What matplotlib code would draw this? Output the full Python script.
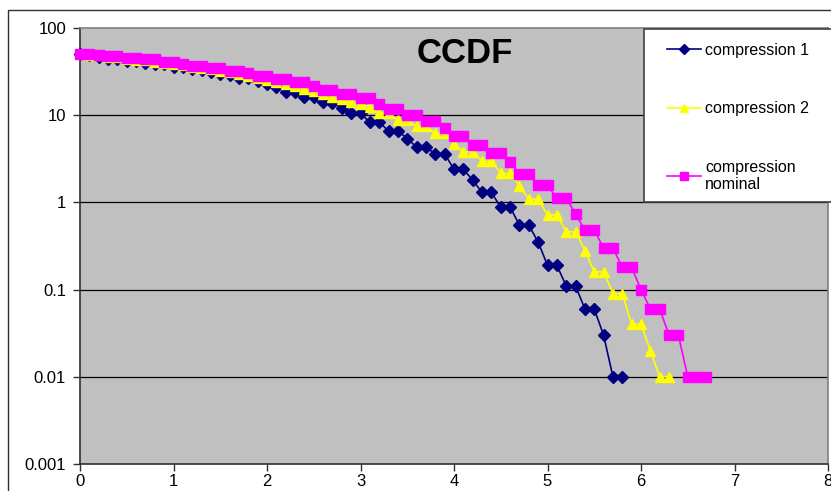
import matplotlib
matplotlib.use("Agg")
import matplotlib.pyplot as plt
from matplotlib.patches import Rectangle

plt.rcParams["font.family"] = ["Liberation Sans", "DejaVu Sans"]

# CCDF values (percent) sampled every 0.1 along x
comp1 = [50, 48.5, 47, 44.5, 44.5, 42, 41.5, 40, 39, 38.5,
         36, 35.5, 33.5, 33, 31.5, 30, 29, 26.5, 26.5, 24.5,
         23, 21, 18.6, 18.6, 16.3, 16.3, 14.3, 13.9, 12.2, 10.5,
         10.5, 8.3, 8.3, 6.6, 6.6, 5.4, 4.3, 4.3, 3.6, 3.6,
         2.4, 2.4, 1.8, 1.3, 1.3, 0.88, 0.88, 0.55, 0.55, 0.35,
         0.19, 0.19, 0.11, 0.11, 0.06, 0.06, 0.03, 0.01, 0.01]
comp2 = [50, 49.5, 48.5, 47, 46, 44.5, 43.5, 42.5, 41, 40,
         38.5, 37.5, 36, 35, 33.5, 32.5, 31, 29.5, 28.5, 27,
         25.5, 24, 23, 21.5, 19.8, 19, 17.5, 16, 15.5, 14,
         13.5, 12.3, 10.5, 10.5, 8.8, 8.8, 7.5, 7.5, 6.2, 6.2,
         4.7, 3.8, 3.8, 2.95, 2.95, 2.15, 2.15, 1.56, 1.09, 1.09,
         0.72, 0.72, 0.46, 0.46, 0.28, 0.16, 0.16, 0.09, 0.09, 0.04,
         0.04, 0.02, 0.01, 0.01]
comp_nominal = [50, 50, 49.5, 47.7, 47.7, 45.7, 45.7, 43.8, 43.8, 41.1,
                41.1, 38.7, 36.8, 36.8, 35.1, 35.1, 32.1, 32.1, 30.5, 28.5,
                28.5, 26.1, 26.1, 23.9, 23.9, 21.5, 19.7, 19.7, 17.6, 17.6,
                15.7, 15.7, 13.5, 11.8, 11.8, 10.1, 10.1, 8.5, 8.5, 7.1,
                5.7, 5.7, 4.6, 4.6, 3.7, 3.7, 2.9, 2.13, 2.13, 1.57,
                1.57, 1.11, 1.11, 0.74, 0.48, 0.48, 0.30, 0.30, 0.18, 0.18,
                0.10, 0.06, 0.06, 0.03, 0.03, 0.01, 0.01, 0.01]

series_labels = ["compression 1", "compression 2", "compression\nnominal"]
x_ticks = [0, 1, 2, 3, 4, 5, 6, 7, 8]
y_ticks = [0.001, 0.01, 0.1, 1, 10, 100]
y_tick_labels = ["0.001", "0.01", "0.1", "1", "10", "100"]


def xgrid(values):
    return [i / 10 for i in range(len(values))]


W, H = 831, 491
fig = plt.figure(figsize=(W / 100, H / 100), dpi=100)
fig.patch.set_facecolor("white")

# outer chart frame (left and top edges visible)
fig.add_artist(Rectangle((8 / W, -0.2), 1.2, 1.2 - 10 / H,
                         transform=fig.transFigure, fill=False,
                         edgecolor="#303030", linewidth=1.0, zorder=0.5))

ax = fig.add_axes([80 / W, 1 - 464 / H, 748 / W, 436 / H])
ax.set_facecolor("#C0C0C0")
ax.set_yscale("log")
ax.set_xlim(0, 8)
ax.set_ylim(0.001, 100)

for v in [0.01, 0.1, 1, 10]:
    ax.axhline(v, color="#000000", linewidth=0.9, zorder=1)

line1, = ax.plot(xgrid(comp1), comp1, color="#000080", marker="D",
                 markersize=5.8, linewidth=1.2, zorder=3, clip_on=False)
line2, = ax.plot(xgrid(comp2), comp2, color="#FFFF00", marker="^",
                 markersize=7.5, linewidth=1.2, zorder=4, clip_on=False)
line3, = ax.plot(xgrid(comp_nominal), comp_nominal, color="#FF00FF",
                 marker="s", markersize=7, linewidth=1.2, zorder=5,
                 clip_on=False)

ax.set_xticks(x_ticks)
ax.set_xticklabels([str(t) for t in x_ticks])
ax.set_yticks(y_ticks)
ax.set_yticklabels(y_tick_labels)
ax.minorticks_off()
ax.tick_params(axis="both", direction="out", length=5, width=1,
               color="#303030", labelsize=12, labelcolor="#000000")
ax.tick_params(axis="y", pad=5)
ax.tick_params(axis="x", pad=2)

for side in ["left", "bottom"]:
    ax.spines[side].set_color("#303030")
    ax.spines[side].set_linewidth(1.2)
for side in ["top", "right"]:
    ax.spines[side].set_color("#808080")
    ax.spines[side].set_linewidth(1.2)

ax.text(0.515, 0.941, "CCDF", transform=ax.transAxes, ha="center",
        va="center", fontsize=25, fontweight="bold", color="#000000")

# legend box
fig.add_artist(Rectangle((644 / W, 1 - 202 / H), 0.5, 173 / H,
                         transform=fig.transFigure, facecolor="white",
                         edgecolor="#404040", linewidth=1.2, zorder=2))
fig.legend([line1, line2, line3], series_labels, loc="upper left",
           bbox_to_anchor=(667 / W, 1 - 43 / H), frameon=False,
           borderpad=0, borderaxespad=0, handlelength=2.1,
           handletextpad=0.3, labelspacing=2.72, fontsize=11.5,
           markerscale=0.8)

fig.savefig("out.png", dpi=100)
